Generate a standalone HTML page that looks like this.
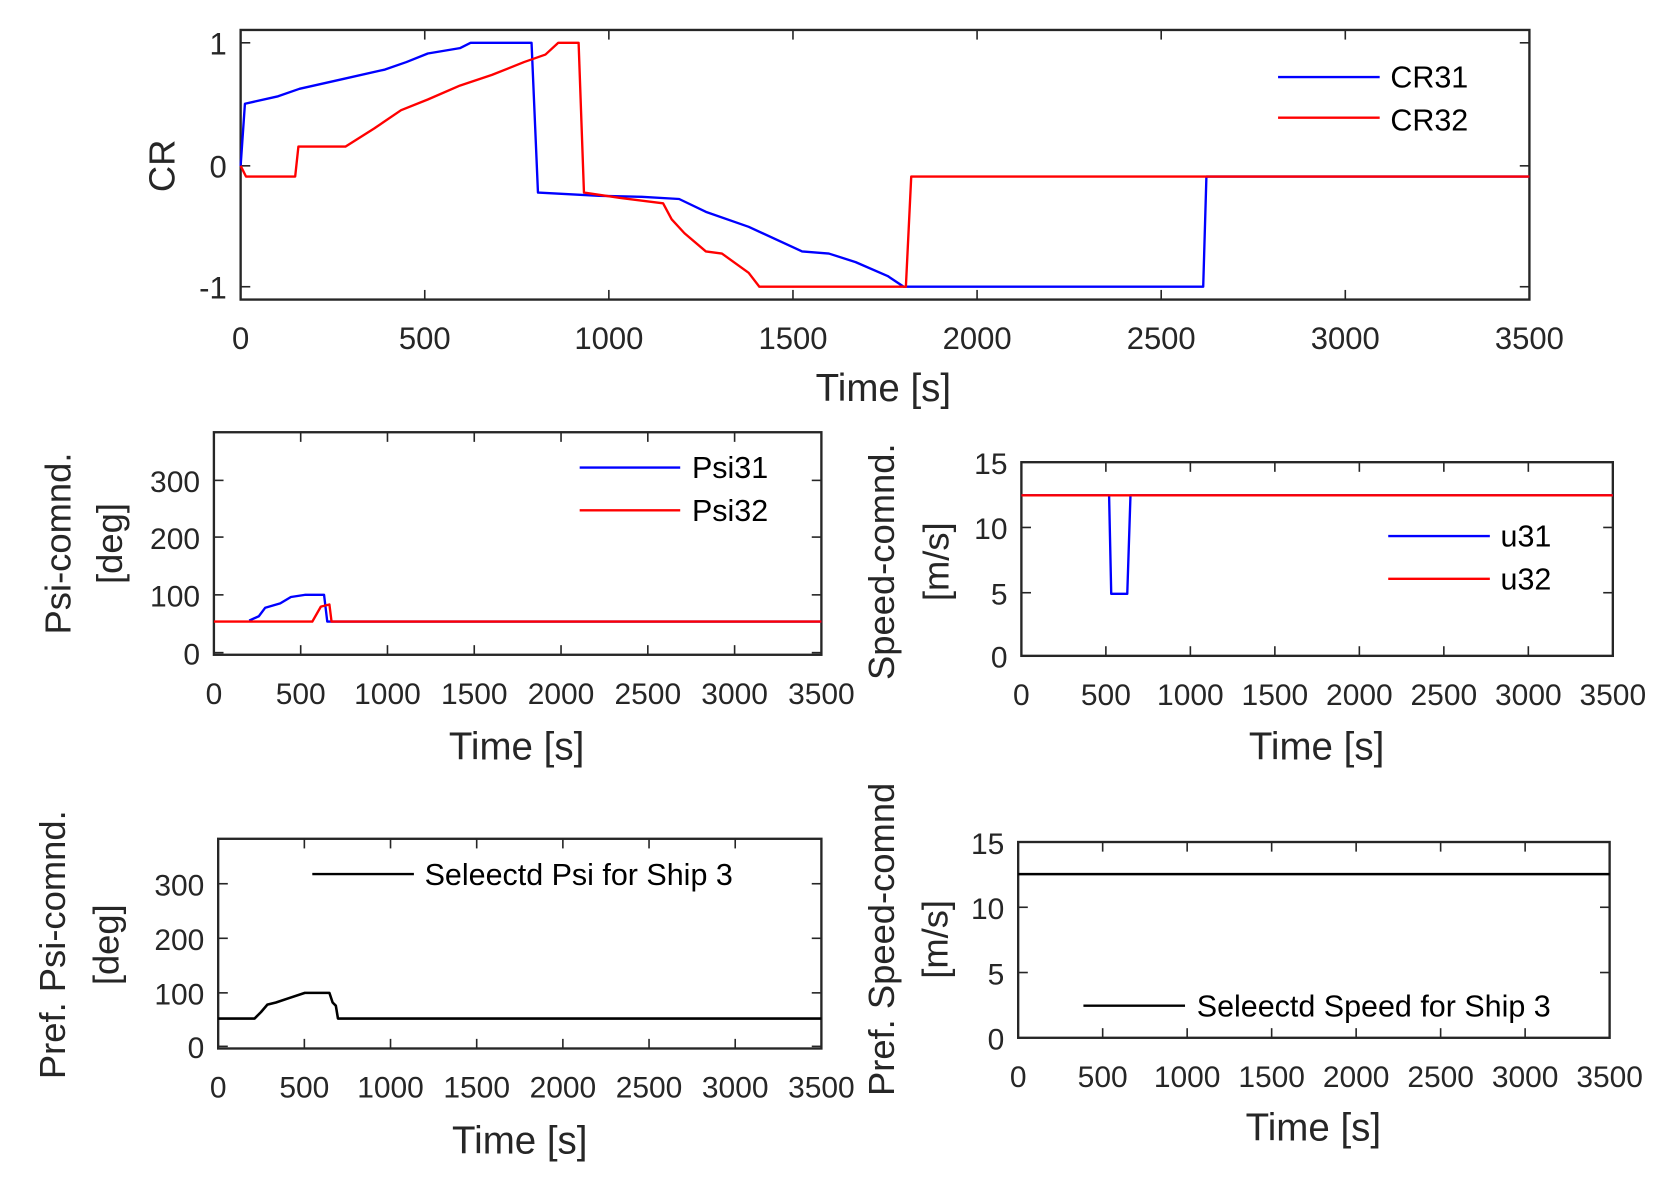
<!DOCTYPE html>
<html><head><meta charset="utf-8"><style>
html,body{margin:0;padding:0;background:#fff;}
svg{display:block;}
text{font-family:"Liberation Sans",Arial,sans-serif;}
</style></head><body>
<svg id="s" width="1677" height="1194" viewBox="0 0 1568 1116" preserveAspectRatio="none" xmlns="http://www.w3.org/2000/svg">
<rect width="1568" height="1116" fill="#fff"/>
<g id="g"></g>
</svg>
<script>
const g=document.getElementById('g');let h='';
function ax(x0,x1,y0,y1,xt,yt,fs){
  h+=`<rect x="${x0}" y="${y0}" width="${x1-x0}" height="${y1-y0}" fill="none" stroke="#262626" stroke-width="2.2"/>`;
  for(const [p,l] of xt){h+=`<line x1="${p}" y1="${y1}" x2="${p}" y2="${y1-9}" stroke="#262626" stroke-width="1.5"/><line x1="${p}" y1="${y0}" x2="${p}" y2="${y0+9}" stroke="#262626" stroke-width="1.5"/>`;
    h+=`<text x="${p}" y="${y1+46}" font-size="${fs}" fill="#262626" text-anchor="middle">${l}</text>`;}
  for(const [p,l] of yt){h+=`<line x1="${x0}" y1="${p}" x2="${x0+9}" y2="${p}" stroke="#262626" stroke-width="1.5"/><line x1="${x1}" y1="${p}" x2="${x1-9}" y2="${p}" stroke="#262626" stroke-width="1.5"/>`;
    h+=`<text x="${x0-13}" y="${p+11}" font-size="${fs}" fill="#262626" text-anchor="end">${l}</text>`;}
}
function xs(x0,x1){const r=[];for(let i=0;i<=7;i++)r.push([x0+(x1-x0)*i/7,i*500]);return r;}
function pl(pts,c,w){h+=`<polyline points="${pts}" fill="none" stroke="${c}" stroke-width="${w||2.2}" stroke-linejoin="round"/>`;}
function tx(x,y,s,fs,anchor){h+=`<text x="${x}" y="${y}" font-size="${fs}" fill="#000" text-anchor="${anchor||'start'}">${s}</text>`;}
function lab(x,y,s,fs){h+=`<text x="${x}" y="${y}" font-size="${fs}" fill="#262626" text-anchor="middle" transform="rotate(-90 ${x} ${y})">${s}</text>`;}
const LF=28.5, TF=36, YF=34;
ax(225,1430,28,280,xs(225,1430),[[40,'1'],[155,'0'],[268,'-1']],29);
pl("225,155 229,97 260,90 280,83 320,74 360,65 380,58 400,50 430,45 440,40 497,40 503,180 560,183 600,184 635,186 660,198 700,212 750,235 775,237 800,245 830,258 845,268 1125,268 1128,165 1430,165","#0000ff");
pl("225,155 230,165 276,165 279,137 323,137 350,120 375,103 400,93 430,80 460,70 490,58 510,51 522,40 541,40 546,180 580,185 620,190 628,205 640,218 660,235 675,237 700,255 710,268 847,268 852,165 1430,165","#ff0000");
pl("1195,72 1290,72","#0000ff");pl("1195,110 1290,110","#ff0000");
tx(1300,82,'CR31',LF);tx(1300,122,'CR32',LF);
lab(163,155,'CR',YF);
h+=`<text x="826" y="375" font-size="${TF}" fill="#262626" text-anchor="middle">Time [s]</text>`;
ax(200,768,404,612,xs(200,768),[[610,'0'],[556,'100'],[502,'200'],[449,'300']],28);
pl("233,580 242,576 248,568 262,564 272,558 285,556 303,556 306,581 768,581","#0000ff");
pl("200,581 292,581 300,567 308,565 310,581 768,581","#ff0000");
pl("542,437 636,437","#0000ff");pl("542,477 636,477","#ff0000");
tx(647,447,'Psi31',LF);tx(647,487,'Psi32',LF);
lab(66,508,'Psi-comnd.',YF);lab(114,508,'[deg]',YF);
h+=`<text x="483" y="710" font-size="${TF}" fill="#262626" text-anchor="middle">Time [s]</text>`;
ax(955,1508,432,613,xs(955,1508),[[613,'0'],[554,'5'],[493,'10'],[432,'15']],28);
pl("955,463 1037,463 1039,555 1054,555 1057,463 1508,463","#0000ff");
pl("955,463 1508,463","#ff0000");
pl("1298,501 1393,501","#0000ff");pl("1298,541 1393,541","#ff0000");
tx(1403,511,'u31',LF);tx(1403,551,'u32',LF);
lab(836,525,'Speed-comnd.',YF);lab(887,525,'[m/s]',YF);
h+=`<text x="1231" y="710" font-size="${TF}" fill="#262626" text-anchor="middle">Time [s]</text>`;
ax(204,768,784,980,xs(204,768),[[978,'0'],[928,'100'],[877,'200'],[826,'300']],28);
pl("204,952 238,952 244,946 250,939 258,937 270,933 285,928 308,928 311,937 314,940 316,952 768,952","#000",2.4);
pl("292,817 387,817","#000");tx(397,827,'Seleectd Psi for Ship 3',LF);
lab(61,883,'Pref. Psi-comnd.',YF);lab(111,883,'[deg]',YF);
h+=`<text x="486" y="1078" font-size="${TF}" fill="#262626" text-anchor="middle">Time [s]</text>`;
ax(952,1505,787,970,xs(952,1505),[[970,'0'],[909,'5'],[848,'10'],[787,'15']],28);
pl("952,817 1505,817","#000",2.4);
pl("1013,940 1108,940","#000");tx(1119,950,'Seleectd Speed for Ship 3',LF);
lab(836,878,'Pref. Speed-comnd',YF);lab(886,878,'[m/s]',YF);
h+=`<text x="1228" y="1066" font-size="${TF}" fill="#262626" text-anchor="middle">Time [s]</text>`;
g.innerHTML=h;
</script>
</body></html>
